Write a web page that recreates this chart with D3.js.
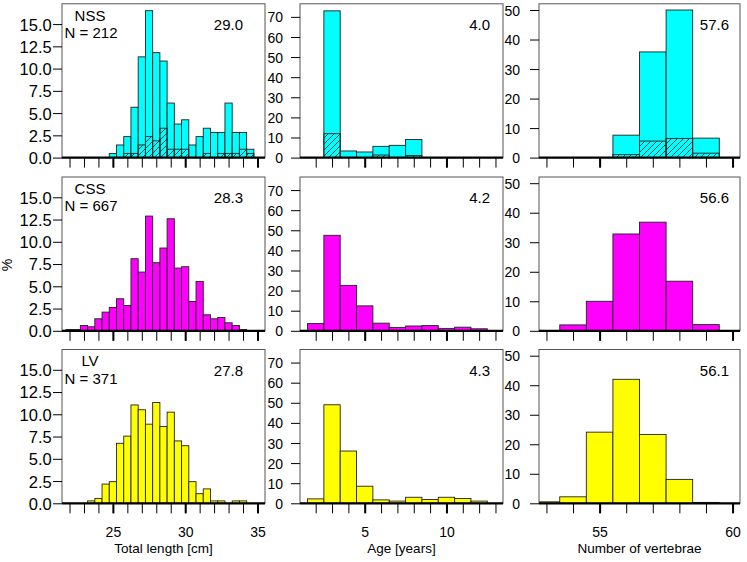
<!DOCTYPE html>
<html><head><meta charset="utf-8">
<script src="https://cdn.jsdelivr.net/npm/d3@7"></script>
<style>
body{margin:0;background:#fff}
svg{display:block}
text{font-family:"Liberation Sans",Arial,Helvetica,sans-serif;fill:#000}
</style>
</head><body>
<svg id="chart" width="747" height="562"></svg>
<script>
// ---------------- DATA ----------------
const groups = ["NSS", "CSS", "LV"];
const groupN = [212, 667, 371];

// Total length [cm], bins of 0.5 cm (centres)
const lengthBins = [22, 22.5, 23, 23.5, 24, 24.5, 25, 25.5, 26, 26.5, 27, 27.5, 28, 28.5, 29, 29.5, 30, 30.5, 31, 31.5, 32, 32.5, 33, 33.5, 34, 34.5];
const lengthNSS = [0, 0, 0, 0, 0, 0, 0.47, 1.42, 2.36, 5.66, 11.32, 16.51, 11.79, 10.85, 6.13, 3.77, 4.25, 1.42, 2.36, 3.30, 2.83, 2.83, 6.13, 2.83, 2.83, 0.94];
const lengthNSSsub = [0, 0, 0, 0, 0, 0, 0, 0, 0.47, 0.47, 1.42, 2.36, 1.89, 3.30, 0.94, 0.94, 0.94, 0, 0, 0.47, 0, 0.47, 0.47, 0.47, 0.94, 0.47];
const lengthCSS = [0.15, 0.15, 0.60, 0.45, 1.35, 2.10, 2.62, 3.60, 2.85, 8.10, 6.60, 12.89, 7.65, 9.30, 12.59, 7.05, 7.20, 3.30, 5.55, 1.80, 1.35, 1.50, 0.90, 0.60, 0.15, 0];
const lengthLV = [0, 0, 0, 0.27, 0.54, 2.16, 2.43, 6.74, 7.55, 11.05, 10.51, 8.89, 11.32, 8.63, 10.24, 7.01, 6.47, 2.43, 1.08, 1.62, 0.27, 0.27, 0, 0.27, 0.27, 0];

// Age [years], bins of 1 year (centres)
const ageBins = [2, 3, 4, 5, 6, 7, 8, 9, 10, 11, 12, 13];
const ageNSS = [0, 73.0, 3.3, 2.8, 5.6, 6.1, 9.0, 0, 0, 0, 0, 0];
const ageNSSsub = [0, 11.9, 0, 0, 1.3, 0, 1.0, 0, 0, 0, 0, 0];
const ageCSS = [3.6, 47.5, 22.6, 12.4, 3.8, 1.7, 2.4, 2.6, 1.2, 1.8, 1.0, 0];
const ageLV = [2.2, 49.0, 26.0, 8.5, 1.7, 1.1, 3.0, 1.9, 3.0, 2.4, 1.1, 0];

// Number of vertebrae (centres)
const vertBins = [53, 54, 55, 56, 57, 58, 59, 60];
const vertNSS = [0, 0, 0, 7.6, 35.8, 50.0, 6.6, 0];
const vertNSSsub = [0, 0, 0, 1.0, 5.6, 6.5, 1.5, 0];
const vertCSS = [0, 2.0, 10.0, 32.8, 36.8, 16.8, 2.1, 0];
const vertLV = [0.5, 2.2, 24.1, 42.0, 23.3, 8.1, 0.3, 0];

// Means shown in each panel
const meanLength = ["29.0", "28.3", "27.8"];
const meanAge = ["4.0", "4.2", "4.3"];
const meanVert = ["57.6", "56.6", "56.1"];

// Axis ticks
const lengthTicks = [22, 23, 24, 25, 26, 27, 28, 29, 30, 31, 32, 33, 34, 35];
const lengthMajor = [25, 30, 35];
const ageTicks = [2, 3, 4, 5, 6, 7, 8, 9, 10, 11, 12, 13];
const ageMajor = [5, 10];
const vertTicks = [53, 54, 55, 56, 57, 58, 59, 60];
const vertMajor = [55, 60];
const lengthYTicks = [0, 2.5, 5, 7.5, 10, 12.5, 15];
const ageYTicks = [0, 10, 20, 30, 40, 50, 60, 70];
const vertYTicks = [0, 10, 20, 30, 40, 50];
const xTitles = ["Total length [cm]", "Age [years]", "Number of vertebrae"];
const yTitle = "%";

// ---------------- LAYOUT ----------------
const colors = ["#00FFFF", "#FF00FF", "#FFFF00"];
const cols = [
  {x0: 62, x1: 265, dom: [21.48, 35.52], yMax: 17.28, bw: 0.5, bins: lengthBins,
   series: [lengthNSS, lengthCSS, lengthLV], sub: lengthNSSsub, means: meanLength,
   ticks: lengthTicks, major: lengthMajor, yTicks: lengthYTicks, yFmt: d3.format(".1f"),
   meanX: 243, yPad: 1.3, yFont: 16.5},
  {x0: 300, x1: 503, dom: [1.04, 13.46], yMax: 76.5, bw: 1, bins: ageBins,
   series: [ageNSS, ageCSS, ageLV], sub: ageNSSsub, means: meanAge,
   ticks: ageTicks, major: ageMajor, yTicks: ageYTicks, yFmt: d3.format("d"),
   meanX: 490, yPad: 8, yFont: 14},
  {x0: 539, x1: 740, dom: [52.72, 60.28], yMax: 52.1, bw: 1, bins: vertBins,
   series: [vertNSS, vertCSS, vertLV], sub: vertNSSsub, means: meanVert,
   ticks: vertTicks, major: vertMajor, yTicks: vertYTicks, yFmt: d3.format("d"),
   meanX: 729, yPad: 10, yFont: 14}
];
const rowTop = [3.8, 177, 349.5];
const plotH = 153.8;
const FONT = '"Liberation Sans",Arial,sans-serif';

const svg = d3.select("#chart");
const defs = svg.append("defs");
const pat = defs.append("pattern").attr("id", "hatch")
  .attr("patternUnits", "userSpaceOnUse").attr("width", 6).attr("height", 6);
pat.append("path").attr("d", "M-1,1 L1,-1 M0,6 L6,0 M5,7 L7,5")
  .attr("stroke", "#1a1a1a").attr("stroke-width", 0.8);

groups.forEach((g, r) => {
  cols.forEach((c, ci) => {
    const top = rowTop[r], bottom = top + plotH;
    const x = d3.scaleLinear().domain(c.dom).range([c.x0, c.x1]);
    const y = d3.scaleLinear().domain([0, c.yMax]).range([bottom, top]);
    const clipId = `clip-${r}-${ci}`;
    defs.append("clipPath").attr("id", clipId).append("rect")
      .attr("x", c.x0).attr("y", top).attr("width", c.x1 - c.x0).attr("height", plotH);
    const panel = svg.append("g");
    panel.append("rect").attr("x", c.x0).attr("y", top).attr("width", c.x1 - c.x0).attr("height", plotH)
      .attr("fill", "#fff");
    const bars = panel.append("g").attr("clip-path", `url(#${clipId})`);
    const vals = c.series[r];
    bars.selectAll("rect.bar").data(c.bins.map((b, i) => ({b, v: vals[i]})).filter(d => d.v > 0))
      .join("rect").attr("class", "bar")
      .attr("x", d => x(d.b - c.bw / 2)).attr("width", d => x(d.b + c.bw / 2) - x(d.b - c.bw / 2))
      .attr("y", d => y(d.v)).attr("height", d => y(0) - y(d.v))
      .attr("fill", colors[r]).attr("stroke", "#222").attr("stroke-width", 0.9);
    if (r === 0) {
      bars.selectAll("rect.sub").data(c.bins.map((b, i) => ({b, v: c.sub[i]})).filter(d => d.v > 0))
        .join("rect").attr("class", "sub")
        .attr("x", d => x(d.b - c.bw / 2)).attr("width", d => x(d.b + c.bw / 2) - x(d.b - c.bw / 2))
        .attr("y", d => y(d.v)).attr("height", d => y(0) - y(d.v))
        .attr("fill", "url(#hatch)").attr("stroke", "#222").attr("stroke-width", 0.9);
    }
    // box
    panel.append("rect").attr("x", c.x0).attr("y", top).attr("width", c.x1 - c.x0).attr("height", plotH)
      .attr("fill", "none").attr("stroke", "#555").attr("stroke-width", 1);
    // minor x ticks
    const minor = panel.append("g").attr("transform", `translate(0,${bottom})`)
      .call(d3.axisBottom(x).tickValues(c.ticks).tickSize(10).tickFormat(""));
    minor.select(".domain").remove();
    minor.selectAll("line").attr("stroke", "#000").attr("stroke-width", 1);
    const major = panel.append("g").attr("transform", `translate(0,${bottom})`)
      .call(d3.axisBottom(x).tickValues(c.major).tickSize(10).tickFormat(r === 2 ? d3.format("d") : () => ""));
    major.select(".domain").remove();
    major.selectAll("line").attr("stroke", "#000").attr("stroke-width", 2);
    major.selectAll("text").attr("y", 34).attr("dy", 0).attr("font-size", 14).style("font-family", FONT);
    // baseline
    panel.append("line").attr("x1", c.x0).attr("x2", c.x1).attr("y1", y(0)).attr("y2", y(0))
      .attr("stroke", "#000").attr("stroke-width", 2.2);
    // y axis
    const ya = panel.append("g").attr("transform", `translate(${c.x0},0)`)
      .call(d3.axisLeft(y).tickValues(c.yTicks).tickSize(9).tickPadding(c.yPad).tickFormat(c.yFmt));
    ya.select(".domain").remove();
    ya.selectAll("line").attr("stroke", "#000").attr("stroke-width", 1);
    ya.selectAll("text").attr("font-size", c.yFont).attr("dy", "0.36em").style("font-family", FONT);
    // mean
    panel.append("text").attr("x", c.meanX).attr("y", top + 26).attr("text-anchor", "end")
      .attr("font-size", 15).text(c.means[r]);
    if (ci === 0) {
      panel.append("text").attr("x", 90).attr("y", top + 16.7).attr("text-anchor", "middle")
        .attr("font-size", 15).text(g);
      panel.append("text").attr("x", 91).attr("y", top + 34.3).attr("text-anchor", "middle")
        .attr("font-size", 15).text(`N = ${groupN[r]}`);
    }
    if (r === 2) {
      panel.append("text").attr("x", (c.x0 + c.x1) / 2).attr("y", 553).attr("text-anchor", "middle")
        .attr("font-size", 13.5).text(xTitles[ci]);
    }
  });
});
svg.append("text").attr("transform", "translate(12,265) rotate(-90)").attr("text-anchor", "middle")
  .attr("font-size", 14).text(yTitle);
</script>
</body></html>
